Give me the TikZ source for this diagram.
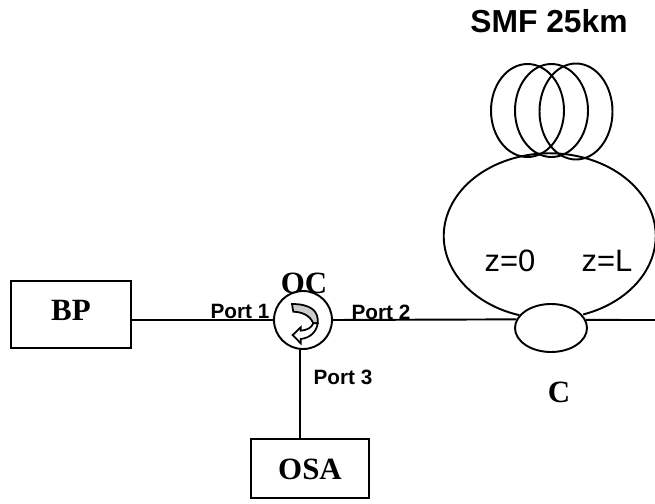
\documentclass[tikz,border=0pt]{standalone}
\usepackage{fontspec}
\setmainfont{Liberation Serif}
\setsansfont{Liberation Sans}
\usetikzlibrary{shapes,calc,positioning}
\tikzstyle{l2}=[line width=1.1pt]
\tikzstyle{box}=[rectangle, draw=black, l2, inner sep=0pt]
\tikzstyle{oval}=[ellipse, draw=black, l2, inner sep=0pt]
\tikzstyle{title}=[font=\rmfamily\bfseries\fontsize{17.6}{20}\selectfont, inner sep=0pt]
\tikzstyle{port}=[font=\sffamily\bfseries\fontsize{11.8}{14}\selectfont, inner sep=0pt]
\tikzstyle{place}=[font=\sffamily\fontsize{17.6}{20}\selectfont, inner sep=0pt]
\begin{document}
\begin{tikzpicture}
    \useasboundingbox (0,0) rectangle (13.1,10.06);
    \node[box, minimum width=2.4cm, minimum height=1.34cm] at (1.42,3.77) (BP) {};
    \node[box, minimum width=2.36cm, minimum height=1.18cm] at (6.2,0.69) (OSA) {};
    \node[circle, draw=black, l2, minimum size=1.16cm, inner sep=0pt] at (6.06,3.66) (circ) {};
    \node[oval, minimum width=1.44cm, minimum height=0.96cm] at (11.02,3.5) (C) {};
    \coordinate (out) at (13.1,3.66);

    \node[oval, minimum width=1.46cm, minimum height=1.86cm] at (10.55,7.85) (coil1) {};
    \node[oval, minimum width=1.46cm, minimum height=1.86cm] at (11.03,7.85) (coil2) {};
    \node[oval, minimum width=1.46cm, minimum height=1.92cm] at (11.52,7.83) (coil3) {};

    \draw[l2] (BP.east |- circ.west) -- (circ.west);
    \draw[l2] (circ.east) -- (C.166.74);
    \draw[l2] (C.13.26) -- (out);
    \draw[l2] (circ.264) -- (circ.264 |- OSA.north);
    \draw[l2] (C.158) arc[start angle=253.3, end angle=-71.6, x radius=2.12, y radius=1.654];

    % circulator arrow
    \draw[line width=1pt, fill=black!20, line join=miter] (5.84,3.98) .. controls (6.2,3.98) and (6.38,3.85) .. (6.354,3.594)
        -- (6.266,3.594) .. controls (6.2,3.75) and (6.05,3.82) .. (5.866,3.826) -- cycle;
    \draw[line width=1pt, fill=white, line join=miter] (6.354,3.594) .. controls (6.33,3.42) and (6.2,3.3) .. (6.014,3.28)
        -- (6.014,3.194) -- (5.854,3.36) -- (6.014,3.514) -- (6.014,3.446)
        .. controls (6.14,3.46) and (6.23,3.5) .. (6.266,3.594) -- cycle;

    \node[title] at (1.42,3.86) (BPlabel) {BP};
    \node[title] at (6.2,0.68) (OSAlabel) {OSA};
    \node[title] at (6.08,4.4) (OClabel) {OC};
    \node[title] at (11.18,2.22) (Clabel) {C};
    \node[port] at (4.8,3.84) (port1) {Port 1};
    \node[port] at (7.62,3.82) (port2) {Port 2};
    \node[port] at (6.86,2.52) (port3) {Port 3};
    \node[place] at (10.2,4.84) (z0) {z=0};
    \node[place] at (12.14,4.84) (zL) {z=L};
    \node[font=\sffamily\bfseries\fontsize{18.1}{20}\selectfont, inner sep=0pt] at (10.98,9.64) (smf) {SMF 25km};
\end{tikzpicture}
\end{document}
